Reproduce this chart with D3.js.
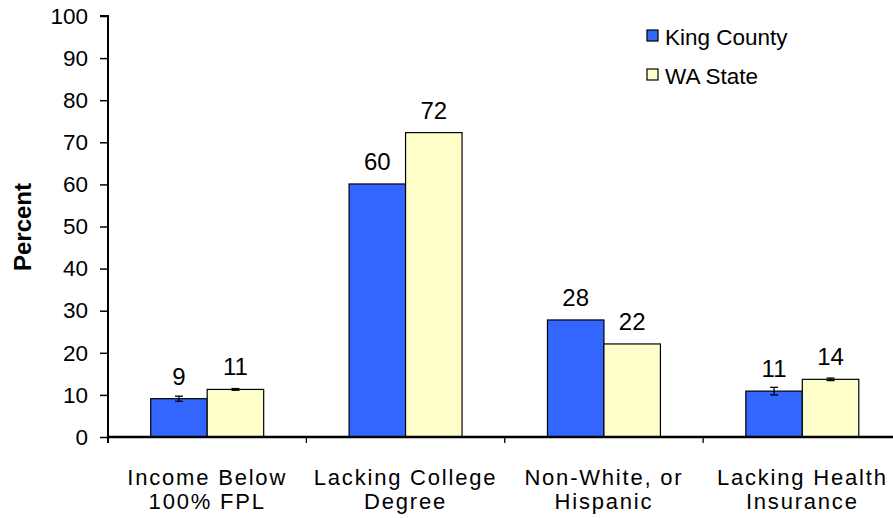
<!DOCTYPE html>
<html>
<head>
<meta charset="utf-8">
<script src="https://cdn.jsdelivr.net/npm/d3@7"></script>
<style>
  body { margin: 0; background: #fff; }
  svg { font-family: "Liberation Sans", Arial, sans-serif; }
</style>
</head>
<body>
<div id="chart"></div>
<script>
// chart values
var categories = [["Income Below", "100% FPL"], ["Lacking College", "Degree"],
                  ["Non-White, or", "Hispanic"], ["Lacking Health", "Insurance"]];
var seriesNames = ["King County", "WA State"];
var kingCounty = [9.1, 60.1, 27.8, 10.9];
var waState = [11.3, 72.3, 22.1, 13.7];
var kingErr = [0.6, 0, 0, 0.9];
var waErr = [0.2, 0, 0, 0.3];
var yTicks = [0, 10, 20, 30, 40, 50, 60, 70, 80, 90, 100];
var colors = ["#3366ff", "#ffffcc"];

var width = 893, height = 518;
var margin = {top: 16, left: 108, bottom: 81};
var plotRight = 901.5;

var svg = d3.select("#chart").append("svg")
    .attr("width", width)
    .attr("height", height);

var x0 = d3.scaleBand()
    .domain(d3.range(categories.length))
    .range([margin.left, plotRight])
    .paddingInner(0)
    .paddingOuter(0);

var x1 = d3.scaleBand()
    .domain([0, 1])
    .range([0, x0.bandwidth()])
    .paddingOuter(0.756)
    .paddingInner(0);

var y = d3.scaleLinear()
    .domain([0, 100])
    .range([height - margin.bottom, margin.top]);

// bars
var groups = svg.selectAll(".grp")
    .data(categories.map(function(c, i) {
        return [
            {s: 0, v: kingCounty[i], e: kingErr[i]},
            {s: 1, v: waState[i], e: waErr[i]}
        ];
    }))
    .enter().append("g")
    .attr("class", "grp")
    .attr("transform", function(d, i) { return "translate(" + x0(i) + ",0)"; });

groups.selectAll("rect")
    .data(function(d) { return d; })
    .enter().append("rect")
    .attr("x", function(d) { return x1(d.s); })
    .attr("y", function(d) { return y(d.v); })
    .attr("width", x1.bandwidth())
    .attr("height", function(d) { return y(0) - y(d.v); })
    .attr("fill", function(d) { return colors[d.s]; })
    .attr("stroke", "#000")
    .attr("stroke-width", 1.2);

// error bars
var eb = groups.selectAll(".err")
    .data(function(d) { return d.filter(function(p) { return p.e > 0; }); })
    .enter().append("g")
    .attr("class", "err")
    .attr("stroke", "#000")
    .attr("stroke-width", 1.3);

eb.append("line")
    .attr("x1", function(d) { return x1(d.s) + x1.bandwidth() / 2; })
    .attr("x2", function(d) { return x1(d.s) + x1.bandwidth() / 2; })
    .attr("y1", function(d) { return y(d.v - d.e); })
    .attr("y2", function(d) { return y(d.v + d.e); });

eb.selectAll(".cap")
    .data(function(d) { return [d.v - d.e, d.v + d.e].map(function(v) { return {s: d.s, v: v}; }); })
    .enter().append("line")
    .attr("x1", function(d) { return x1(d.s) + x1.bandwidth() / 2 - 4; })
    .attr("x2", function(d) { return x1(d.s) + x1.bandwidth() / 2 + 4; })
    .attr("y1", function(d) { return y(d.v); })
    .attr("y2", function(d) { return y(d.v); });

// value labels
groups.selectAll(".val")
    .data(function(d) { return d; })
    .enter().append("text")
    .attr("class", "val")
    .attr("x", function(d) { return x1(d.s) + x1.bandwidth() / 2; })
    .attr("y", function(d) { return y(d.v) - 14; })
    .attr("text-anchor", "middle")
    .style("font-size", "24px")
    .text(function(d) { return Math.round(d.v); });

// y axis
var yAxis = svg.append("g")
    .attr("transform", "translate(" + margin.left + ",0)")
    .call(d3.axisLeft(y).tickValues(yTicks).tickSize(8).tickPadding(12));
yAxis.select(".domain").attr("d", "M-8," + y(100) + "H0V" + (y(0) + 6))
    .attr("stroke-width", 2);
yAxis.selectAll(".tick line").attr("stroke-width", 1.5);
yAxis.selectAll("text").style("font-size", "22.5px").attr("fill", "#000");

// x axis with ticks at category boundaries
var xAxis = svg.append("g")
    .attr("transform", "translate(0," + y(0) + ")");
xAxis.append("line")
    .attr("x1", margin.left).attr("x2", plotRight)
    .attr("stroke", "#000").attr("stroke-width", 2.5);
xAxis.selectAll(".xt")
    .data(d3.range(categories.length + 1))
    .enter().append("line")
    .attr("x1", function(i) { return i < categories.length ? x0(i) : plotRight; })
    .attr("x2", function(i) { return i < categories.length ? x0(i) : plotRight; })
    .attr("y1", 0).attr("y2", 6)
    .attr("stroke", "#000").attr("stroke-width", 1.3);

var xl = xAxis.selectAll(".xl")
    .data(categories)
    .enter().append("text")
    .attr("text-anchor", "middle")
    .style("font-size", "22px")
    .style("letter-spacing", "1.8px")
    .attr("x", function(d, i) { return x0(i) + x0.bandwidth() / 2; });
xl.append("tspan").attr("x", function(d, i) { return x0(i) + x0.bandwidth() / 2; })
    .attr("y", 48).text(function(d) { return d[0]; });
xl.append("tspan").attr("x", function(d, i) { return x0(i) + x0.bandwidth() / 2; })
    .attr("y", 72).text(function(d) { return d[1]; });

// y title
svg.append("text")
    .attr("transform", "translate(31,227) rotate(-90)")
    .attr("text-anchor", "middle")
    .style("font-size", "24px")
    .style("font-weight", "bold")
    .text("Percent");

// legend
var legend = svg.selectAll(".leg")
    .data(seriesNames)
    .enter().append("g")
    .attr("class", "leg")
    .attr("transform", function(d, i) { return "translate(647," + (30 + i * 39) + ")"; });
legend.append("rect")
    .attr("width", 11).attr("height", 11)
    .attr("fill", function(d, i) { return colors[i]; })
    .attr("stroke", "#000").attr("stroke-width", 1.2);
legend.append("text")
    .attr("x", 18).attr("y", 15)
    .style("font-size", "22.5px")
    .text(function(d) { return d; });
</script>
</body>
</html>
